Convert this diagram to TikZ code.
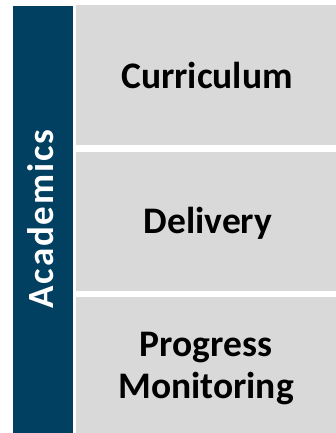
\documentclass[tikz,border=0pt]{standalone}
\usepackage{fontspec}
\setmainfont{Carlito}
\definecolor{barblue}{RGB}{2,64,98}
\definecolor{boxgray}{RGB}{217,217,217}
\begin{document}
\begin{tikzpicture}[x=1pt,y=-1pt,
  lbl/.style={font=\fontsize{37.5}{42}\selectfont\bfseries,align=center,text=black,inner sep=0pt}]
\useasboundingbox (0,0) rectangle (336,433);
\fill[barblue] (13,6) rectangle (73,433);
\node[font=\fontsize{37}{42}\selectfont\bfseries\addfontfeature{LetterSpace=5},text=white,rotate=90,anchor=base] (acad) at (53.3,219) {Academics};
\fill[boxgray] (76,5) rectangle (336,145);
\fill[boxgray] (76,152) rectangle (336,291);
\fill[boxgray] (76,297) rectangle (336,433);
\node[lbl,anchor=base] (cur) at (207,88.5) {Curriculum};
\node[lbl,anchor=base] (del) at (208,233.3) {Delivery};
\node[lbl,anchor=base] (pm1) at (206,356.3) {Progress};
\node[lbl,anchor=base] (pm2) at (206,398.3) {Monitoring};
\end{tikzpicture}
\end{document}
